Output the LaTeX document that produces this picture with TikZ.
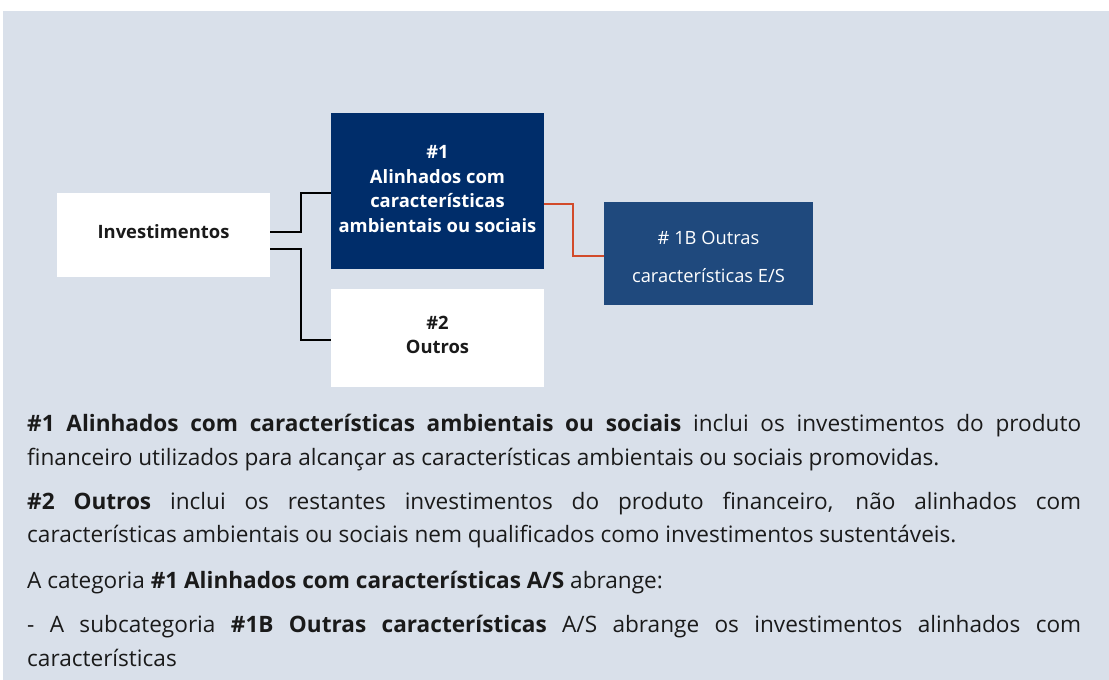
\documentclass[tikz,border=0pt]{standalone}
\usepackage{fontspec}
\setmainfont{Open Sans}
\usetikzlibrary{calc}
\definecolor{panel}{HTML}{D9E0EA}
\definecolor{navy}{HTML}{002D6A}
\definecolor{midblue}{HTML}{1F497D}
\definecolor{redline}{HTML}{D24B2B}
\definecolor{ink}{HTML}{1A1A1A}
\begin{document}
\begin{tikzpicture}[x=1pt,y=-1pt,
  box/.style={rectangle, inner sep=0pt, outer sep=0pt, anchor=north west},
  whitebox/.style={box, fill=white},
  navybox/.style={box, fill=navy},
  bluebox/.style={box, fill=midblue},
  boxtext/.style={inner sep=0pt, align=center, font=\fontsize{18.4}{24.5}\selectfont\bfseries},
  smalltext/.style={inner sep=0pt, align=center, text=white, font=\fontsize{18.3}{38}\selectfont},
  conn/.style={draw=black, line width=1.3pt},
  redconn/.style={draw=redline, line width=1.6pt},
  para/.style={anchor=base west, inner sep=0pt, text=ink, font=\fontsize{22.6}{25}\selectfont}
]
\useasboundingbox (0,0) rectangle (1109,680);
\fill[panel] (3,11) rectangle (1109,680);

\node[whitebox, minimum width=213pt, minimum height=84pt] (inv) at (57,193) {};
\node[navybox, minimum width=213pt, minimum height=156pt] (a1) at (331,113) {};
\node[whitebox, minimum width=213pt, minimum height=98pt] (a2) at (331,289) {};
\node[bluebox, minimum width=209pt, minimum height=103pt] (b1) at (604,202) {};

\node[boxtext, text=ink] (invt) at ([yshift=3pt]inv.center) {Investimentos};
\node[boxtext, text=white] (a1t) at ([yshift=2pt]a1.center) {\#1\\Alinhados com\\características\\ambientais ou sociais};
\node[boxtext, text=ink] (a2t) at ([yshift=3pt]a2.center) {\#2\\Outros};
\node[smalltext] (b1t) at ([yshift=-3pt]b1.center) {\# 1B Outras\\características E/S};

\draw[conn] ([yshift=-39pt]inv.north east) -- ++(31pt,0) |- ([yshift=-80pt]a1.north west);
\draw[conn] ([yshift=-56pt]inv.north east) -- ++(31pt,0) |- ([yshift=-51pt]a2.north west);
\draw[redconn] ([yshift=-91pt]a1.north east) -- ++(29pt,0) |- ([yshift=-54pt]b1.north west);

\node[para] (l1) at (27,431) {\makebox[1054pt][s]{\textbf{\#1 Alinhados com características ambientais ou sociais} inclui os investimentos do produto}};
\node[para] (l2) at (27,465) {financeiro utilizados para alcançar as características ambientais ou sociais promovidas.};
\node[para] (l3) at (27,509) {\makebox[1054pt][s]{\textbf{\#2 Outros} inclui os restantes investimentos do produto financeiro, não alinhados com}};
\node[para] (l4) at (27,542) {características ambientais ou sociais nem qualificados como investimentos sustentáveis.};
\node[para] (l5) at (27,588) {A categoria \textbf{\#1 Alinhados com características A/S} abrange:};
\node[para] (l6) at (27,632) {\makebox[1054pt][s]{- A subcategoria \textbf{\#1B Outras características} A/S abrange os investimentos alinhados com}};
\node[para] (l7) at (27,666) {características};
\end{tikzpicture}
\end{document}
